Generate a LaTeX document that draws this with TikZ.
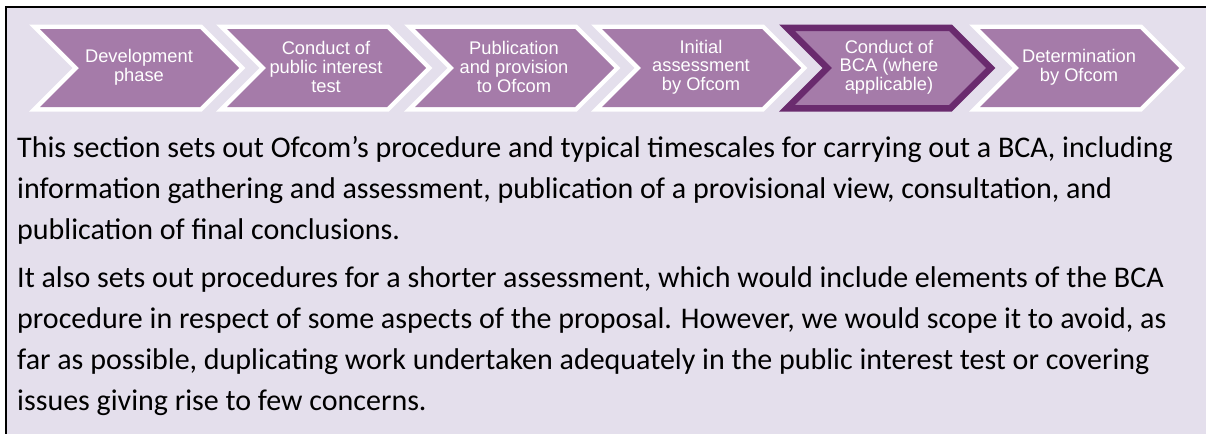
\documentclass[tikz,border=0pt]{standalone}
\usepackage{fontspec}
\setmainfont{Carlito}
\newfontfamily\arialfont{Liberation Sans}
\definecolor{bgl}{HTML}{E4DFEC}
\definecolor{chev}{HTML}{A57BA9}
\definecolor{chevdark}{HTML}{6A2B6E}
\tikzset{
  chevbody/.style={fill=chev, line join=miter, preaction={draw=white, line width=9pt, line join=miter}},
  chevsel/.style={fill=chev, line join=miter, preaction={draw=chevdark, line width=9pt, line join=miter}, postaction={draw=chevdark, line width=4pt, line join=miter}},
  chevlabel/.style={text=white, align=center, font=\arialfont\fontsize{18.3}{18.7}\selectfont, inner sep=0pt},
  bodyline/.style={anchor=base west, inner sep=0pt, font=\fontsize{30}{41}\selectfont, text=black}
}
\newcommand\chevshape[2]{\path[#2] (#1,29) -- ++(160,0) -- ++(39,39) -- ++(-39,39) -- ++(-160,0) -- ++(39,-39) -- cycle;}
\begin{document}
\begin{tikzpicture}[x=1pt,y=-1pt]
\useasboundingbox (0,0) rectangle (1206,434);
\fill[white] (0,0) rectangle (1206,434);
\fill[bgl] (7,8) rectangle (1206,434);
\draw[black, line width=2pt] (5,7) -- (1206,7);
\draw[black, line width=2pt] (6,6) -- (6,434);
\chevshape{40}{chevbody}
\chevshape{227}{chevbody}
\chevshape{415}{chevbody}
\chevshape{602}{chevbody}
\chevshape{790}{chevsel}
\chevshape{980}{chevbody}
\node[chevlabel] (c1) at (139,67) {Development\\phase};
\node[chevlabel] (c2) at (326,67) {Conduct of\\public interest\\test};
\node[chevlabel] (c3) at (514,67) {Publication\\and provision\\to Ofcom};
\node[chevlabel] (c4) at (701,67) {Initial\\assessment\\by Ofcom};
\node[chevlabel] (c5) at (889,67) {Conduct of\\BCA (where\\applicable)};
\node[chevlabel] (c6) at (1079,67) {Determination\\by Ofcom};
\node[bodyline] (a1) at (17,157) {This section sets out Ofcom’s procedure and typical timescales for carrying out a BCA, including};
\node[bodyline] (a2) at (17,198) {information gathering and assessment, publication of a provisional view, consultation, and};
\node[bodyline] (a3) at (17,239) {publication of final conclusions.};
\node[bodyline] (b1) at (17,287) {It also sets out procedures for a shorter assessment, which would include elements of the BCA};
\node[bodyline] (b2) at (17,328) {procedure in respect of some aspects of the proposal. However, we would scope it to avoid, as};
\node[bodyline] (b3) at (17,369) {far as possible, duplicating work undertaken adequately in the public interest test or covering};
\node[bodyline] (b4) at (17,410) {issues giving rise to few concerns.};
\end{tikzpicture}
\end{document}
